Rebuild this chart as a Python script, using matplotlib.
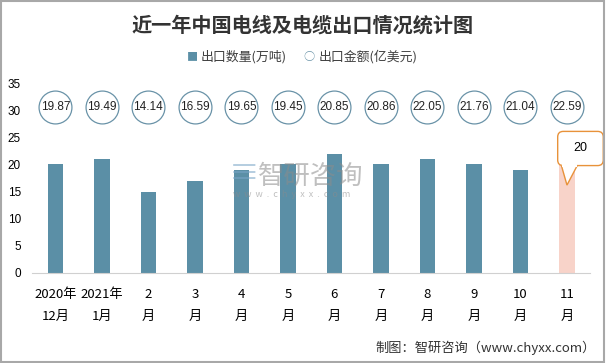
import matplotlib.pyplot as plt
from matplotlib.patches import FancyBboxPatch, Polygon, Rectangle

plt.rcParams['font.family'] = ['Noto Sans CJK SC', 'DejaVu Sans']

# === DATOS ===
months = ["2020年\n12月", "2021年\n1月", "2\n月", "3\n月", "4\n月", "5\n月",
          "6\n月", "7\n月", "8\n月", "9\n月", "10\n月", "11\n月"]
volume = [20, 21, 15, 17, 19, 20, 22, 20, 21, 20, 19, 20]          # 万吨
value = [19.87, 19.49, 14.14, 16.59, 19.65, 19.45,
         20.85, 20.86, 22.05, 21.76, 21.04, 22.59]                  # 亿美元

bar_color = "#5b8fa6"
last_color = "#f8d3c9"
ring_color = "#6a93a8"
call_color = "#e8923a"

fig = plt.figure(figsize=(6.06, 3.63), dpi=100)
ax = fig.add_axes([0.053, 0.248, 0.921, 0.523])

x = list(range(len(months)))
colors = [bar_color] * (len(months) - 1) + [last_color]
ax.bar(x, volume, width=0.33, color=colors, zorder=2)

# circles with amounts
ring_y = 30.6
ax.scatter(x, [ring_y] * len(x), s=560, facecolor="white", edgecolor=ring_color,
           linewidth=0.9, zorder=3, clip_on=False)
for xi, v in zip(x, value):
    ax.text(xi, ring_y, f"{v:.2f}", ha="center", va="center", fontsize=8.5,
            color="#222222", zorder=4, family="Liberation Sans")

ax.set_xlim(-0.5, len(months) - 0.5)
ax.set_ylim(0, 35)
ax.set_yticks(range(0, 36, 5))
ax.set_xticks(x)
ax.set_xticklabels(months, fontsize=9.5, linespacing=1.9)
ax.tick_params(axis="y", length=0, labelsize=8.5, pad=8)
ax.tick_params(axis="x", length=0, pad=11)
for lab in ax.get_yticklabels():
    lab.set_family("Liberation Sans")
for s in ["top", "right", "left"]:
    ax.spines[s].set_visible(False)
ax.spines["bottom"].set_color("#d0d0d0")

# callout for the last bar
last = len(months) - 1
box = FancyBboxPatch((last - 0.2, 19.8), 0.98, 6.3,
                     boxstyle="round,pad=0,rounding_size=0.12",
                     fc="white", ec=call_color, lw=1.0, zorder=5, clip_on=False,
                     mutation_aspect=8.6)
ax.add_patch(box)
tip = (last, 16.2)
ax.add_patch(Polygon([(last - 0.12, 19.8), tip, (last + 0.22, 19.8)], closed=False,
                     fc="white", ec=call_color, lw=1.0, zorder=6, clip_on=False))
ax.add_patch(Rectangle((last - 0.11, 19.6), 0.32, 0.45, fc="white", ec="none",
                       zorder=7, clip_on=False))
ax.text(last + 0.29, 23.0, str(volume[last]), ha="center", va="center",
        fontsize=9, zorder=8, family="Liberation Sans")

# title & legend
fig.text(0.5, 0.93, "近一年中国电线及电缆出口情况统计图", ha="center", va="center",
         fontsize=14.5, fontweight="bold", color="#333333")
fig.text(0.318, 0.843, "■", ha="center", va="center", fontsize=8, color=bar_color)
fig.text(0.331, 0.843, "出口数量(万吨)", ha="left", va="center", fontsize=9.3, color="#404040")
fig.text(0.51, 0.843, "○", ha="center", va="center", fontsize=8, color=ring_color)
fig.text(0.525, 0.843, "出口金额(亿美元)", ha="left", va="center", fontsize=9.3, color="#404040")

# watermark
fig.text(0.425, 0.515, "智研咨询", ha="left", va="center", fontsize=19,
         color="#8c8c8c", alpha=0.55, zorder=1)
fig.text(0.385, 0.465, "w  w  w  .  c  h  y  x  x  .  c  o  m", ha="left", va="center",
         fontsize=6.5, color="#8c8c8c", alpha=0.55)
fig.text(0.402, 0.52, "≡", ha="center", va="center", fontsize=22, color="#7aa6c8", alpha=0.55)

# source
fig.text(0.983, 0.042, "制图：智研咨询（www.chyxx.com）", ha="right", va="center",
         fontsize=9.5, color="#333333")

# border
fig.add_artist(Rectangle((0.002, 0.003), 0.995, 0.994, transform=fig.transFigure,
                         fill=False, ec="#a8a8a8", lw=1.5))

fig.savefig("out.png", dpi=100)
